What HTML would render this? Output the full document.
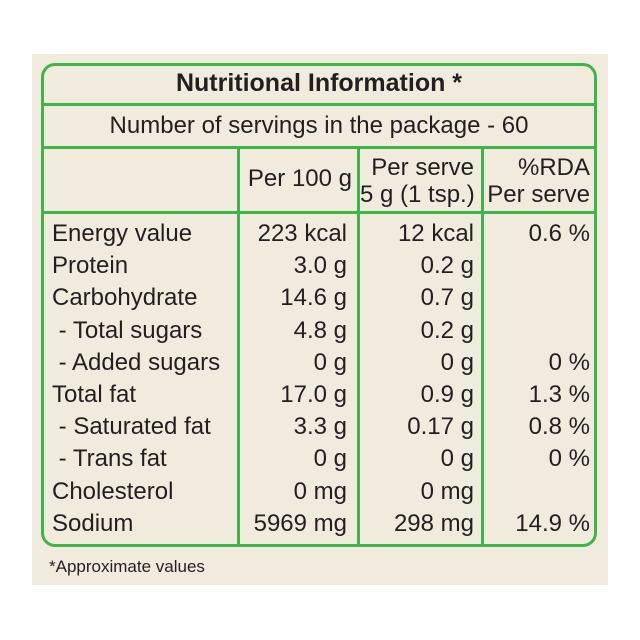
<!DOCTYPE html>
<html><head><style>
body{margin:0;width:640px;height:640px;background:#fff;position:relative;font-family:"Liberation Sans",sans-serif;color:#231f20;overflow:hidden}
.panel{position:absolute;left:32px;top:54px;width:576px;height:531px;background:#f0ebdd}
.box{position:absolute;left:41px;top:63px;width:550px;height:478px;border:3px solid #3cb649;border-radius:14px}
.h{position:absolute;height:3px;background:#3cb649;left:41px;width:556px}
.v{position:absolute;width:3px;background:#3cb649;top:148px;height:396px}
.t{position:absolute;font-size:24px;line-height:26px;white-space:nowrap}
.r{text-align:right}
</style></head><body>
<div class="panel"></div>
<div class="box"></div>
<div class="h" style="top:103px"></div>
<div class="h" style="top:146px"></div>
<div class="h" style="top:211px"></div>
<div class="v" style="left:237px"></div>
<div class="v" style="left:357px"></div>
<div class="v" style="left:481px"></div>
<div class="t" style="left:44px;width:550px;top:70px;text-align:center;font-weight:bold;font-size:25px">Nutritional Information *</div>
<div class="t" style="left:44px;width:550px;top:113px;text-align:center;font-size:24px">Number of servings in the package - 60</div>
<div class="t r" style="left:240px;width:112px;top:166px">Per 100 g</div>
<div class="t r" style="left:360px;width:114px;top:154px;line-height:27px">Per serve<br>5 g (1 tsp.)</div>
<div class="t r" style="left:484px;width:106px;top:154px;line-height:27px">%RDA<br>Per serve</div>
<div class="t" style="left:52px;top:218px;line-height:32.2px">Energy value<br>Protein<br>Carbohydrate<br>&nbsp;- Total sugars<br>&nbsp;- Added sugars<br>Total fat<br>&nbsp;- Saturated fat<br>&nbsp;- Trans fat<br>Cholesterol<br>Sodium</div>
<div class="t r" style="left:240px;width:107px;top:218px;line-height:32.2px">223 kcal<br>3.0 g<br>14.6 g<br>4.8 g<br>0 g<br>17.0 g<br>3.3 g<br>0 g<br>0 mg<br>5969 mg</div>
<div class="t r" style="left:360px;width:114px;top:218px;line-height:32.2px">12 kcal<br>0.2 g<br>0.7 g<br>0.2 g<br>0 g<br>0.9 g<br>0.17 g<br>0 g<br>0 mg<br>298 mg</div>
<div class="t r" style="left:484px;width:106px;top:218px;line-height:32.2px">0.6 %<br>&nbsp;<br>&nbsp;<br>&nbsp;<br>0 %<br>1.3 %<br>0.8 %<br>0 %<br>&nbsp;<br>14.9 %</div>
<div class="t" style="left:49px;top:557px;font-size:17px;line-height:20px">*Approximate values</div>
</body></html>
